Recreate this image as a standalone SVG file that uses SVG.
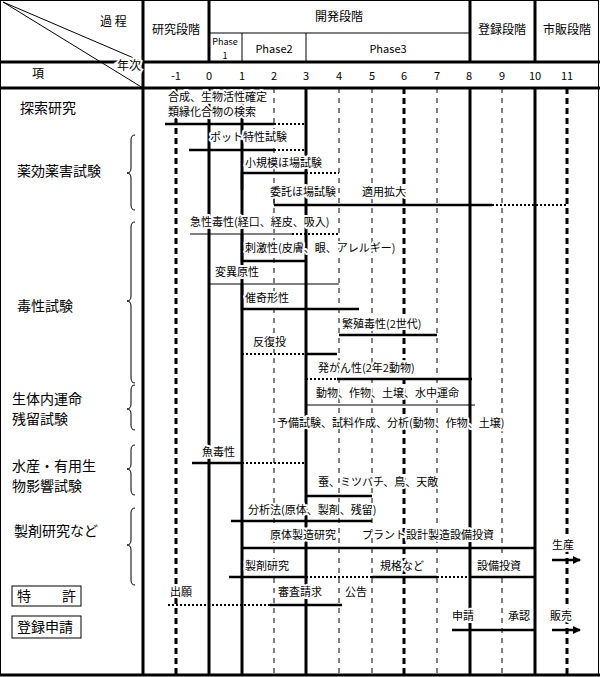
<svg xmlns="http://www.w3.org/2000/svg" width="600" height="677" viewBox="0 0 600 677">
<style>
text{font-family:"Noto Sans CJK JP","Liberation Sans",sans-serif;font-size:11px;fill:#000}
.h{font-size:12px}
.l{font-size:14px}
.t{stroke:#fff;stroke-width:4;paint-order:stroke;stroke-linejoin:round}
.th{stroke:#000;stroke-width:3;fill:none}
.tn{stroke:#000;stroke-width:1;fill:none}
.vd{stroke:#000;stroke-width:3;stroke-dasharray:6,4;fill:none}
.vt{stroke:#000;stroke-width:1;stroke-dasharray:5,5;fill:none}
.dot{stroke:#000;stroke-width:2;stroke-dasharray:2,2;fill:none}
.bar{stroke:#000;stroke-width:2.5;fill:none}
</style>
<defs><marker id="ar" markerWidth="8" markerHeight="8" refX="7" refY="4" orient="auto" markerUnits="userSpaceOnUse"><path d="M0,0 L8,4 L0,8 z" fill="#000"/></marker></defs>
<rect x="0.5" y="0.5" width="598" height="675" fill="#fff" stroke="#000"/>
<g id="grid">
<line class="vd" x1="176" y1="88" x2="176" y2="675"/>
<line class="th" x1="209" y1="0" x2="209" y2="62"/>
<line class="th" x1="209" y1="88" x2="209" y2="675"/>
<line class="tn" x1="242" y1="33" x2="242" y2="62"/>
<line class="th" x1="242" y1="88" x2="242" y2="675"/>
<line class="vt" x1="274" y1="88" x2="274" y2="675"/>
<line class="tn" x1="306" y1="33" x2="306" y2="62"/>
<line class="th" x1="306" y1="88" x2="306" y2="675"/>
<line class="vt" x1="339" y1="88" x2="339" y2="675"/>
<line class="vt" x1="372" y1="88" x2="372" y2="675"/>
<line class="vd" x1="404" y1="88" x2="404" y2="675"/>
<line class="vt" x1="437" y1="88" x2="437" y2="675"/>
<line class="th" x1="470" y1="0" x2="470" y2="62"/>
<line class="th" x1="470" y1="88" x2="470" y2="675"/>
<line class="vt" x1="502" y1="88" x2="502" y2="675"/>
<line class="th" x1="535" y1="0" x2="535" y2="62"/>
<line class="th" x1="535" y1="88" x2="535" y2="675"/>
<line class="vd" x1="567" y1="88" x2="567" y2="675"/>
<line class="th" x1="143" y1="0" x2="143" y2="676"/>
<line class="tn" x1="209" y1="33" x2="470" y2="33"/>
<line class="th" x1="0" y1="62" x2="600" y2="62"/>
<line class="th" x1="0" y1="88" x2="600" y2="88"/>
<line class="th" x1="0" y1="675" x2="600" y2="675"/>
<line class="tn" x1="3" y1="2" x2="143" y2="62"/>
<line class="tn" x1="3" y1="2" x2="143" y2="88"/>
</g>
<g id="header">
<text class="h" x="100" y="26">過 程</text>
<text class="h" x="117" y="70" style="stroke:#fff;stroke-width:4;paint-order:stroke">年次</text>
<text class="h" x="32" y="78">項</text>
<text class="h" x="176" y="34" text-anchor="middle">研究段階</text>
<text class="h" x="339" y="21" text-anchor="middle">開発段階</text>
<text class="h" x="502" y="34" text-anchor="middle">登録段階</text>
<text class="h" x="567" y="34" text-anchor="middle">市販段階</text>
<text x="225" y="45" text-anchor="middle" style="font-size:9px">Phase</text>
<text x="225" y="59" text-anchor="middle" style="font-size:9px">1</text>
<text x="274" y="53" text-anchor="middle">Phase2</text>
<text x="388" y="53" text-anchor="middle">Phase3</text>
<g class="h" text-anchor="middle">
<text x="176" y="80">-1</text><text x="209" y="80">0</text><text x="242" y="80">1</text><text x="274" y="80">2</text><text x="306" y="80">3</text><text x="339" y="80">4</text><text x="372" y="80">5</text><text x="404" y="80">6</text><text x="437" y="80">7</text><text x="469" y="80">8</text><text x="502" y="80">9</text><text x="535" y="80">10</text><text x="567" y="80">11</text>
</g>
</g>
<g id="left">
<text class="l" x="20" y="113">探索研究</text>
<text class="l" x="17" y="176">薬効薬害試験</text>
<text class="l" x="17" y="311">毒性試験</text>
<text class="l" x="12" y="404">生体内運命</text>
<text class="l" x="12" y="424">残留試験</text>
<text class="l" x="12" y="471">水産・有用生</text>
<text class="l" x="12" y="491">物影響試験</text>
<text class="l" x="14" y="536">製剤研究など</text>
<rect x="12" y="586" width="69" height="20" fill="none" stroke="#000"/>
<text class="l" x="17" y="601">特</text><text class="l" x="62" y="601">許</text>
<rect x="12" y="616" width="69" height="22" fill="none" stroke="#000"/>
<text class="l" x="17" y="632">登録申請</text>
<g class="tn">
<path d="M135,135 q-4,0 -4,5 v28 q0,5 -4,5 q4,0 4,5 v27 q0,5 4,5"/>
<path d="M135,222 q-4,0 -4,5 v69 q0,5 -4,5 q4,0 4,5 v72 q0,5 4,5"/>
<path d="M135,385 q-4,0 -4,5 v14 q0,5 -4,5 q4,0 4,5 v11 q0,5 4,5"/>
<path d="M135,445 q-4,0 -4,5 v14 q0,5 -4,5 q4,0 4,5 v16 q0,5 4,5"/>
<path d="M135,508 q-4,0 -4,5 v27 q0,5 -4,5 q4,0 4,5 v30 q0,5 4,5"/>
</g>
</g>
<g id="connectors">
<path class="bar" d="M165,124 H274"/><path class="dot" d="M274,124 H306"/>
<path class="bar" d="M189,150 H274"/><path class="dot" d="M274,150 H306"/>
<path class="bar" d="M242,190 V173 H306"/><path class="dot" d="M306,173 H339"/>
<path class="tn" d="M274,198 V205"/><path class="bar" d="M274,205 H492"/><path class="dot" d="M492,205 H567"/>
<path class="tn" d="M190,234 H292"/><path class="dot" d="M292,234 H339"/>
<path class="bar" d="M242,234 V261 H306"/>
<path class="tn" d="M209,284 H339"/>
<path class="bar" d="M242,284 V309 H359"/>
<path class="bar" d="M339,335 H437"/>
<path class="dot" d="M242,354 H306"/><path class="bar" d="M306,354 H337"/>
<path class="dot" d="M306,379 H337"/><path class="bar" d="M337,379 H472"/>
<path class="tn" d="M306,405 H475"/>
<path class="bar" d="M192,463 H242"/><path class="dot" d="M242,463 H306"/>
<path class="bar" d="M306,496 H372"/>
<path class="bar" d="M231,521 H372"/>
<path class="bar" d="M242,548 H535"/>
<path class="bar" d="M229,577 H306"/><path class="dot" d="M306,577 H372"/><path class="bar" d="M372,577 H437"/><path class="dot" d="M437,577 H470"/><path class="bar" d="M470,577 H535"/>
<path class="dot" d="M168,605 H270"/><path class="bar" d="M270,605 H342"/>
<path class="bar" d="M452,630 H535"/>
<path class="bar" d="M552,560 H580" marker-end="url(#ar)"/>
<path class="bar" d="M552,630 H580" marker-end="url(#ar)"/>
</g>
<g id="labels">
<text class="t" x="168" y="101">合成、生物活性確定</text>
<text class="t" x="168" y="116">類縁化合物の検索</text>
<text class="t" x="210" y="141">ポット特性試験</text>
<text class="t" x="245" y="167">小規模ほ場試験</text>
<text class="t" x="270" y="196">委託ほ場試験</text>
<text class="t" x="362" y="196">適用拡大</text>
<text class="t" x="190" y="226">急性毒性(経口、経皮、吸入)</text>
<text class="t" x="245" y="252">刺激性(皮膚、眼、アレルギー)</text>
<text class="t" x="215" y="276">変異原性</text>
<text class="t" x="245" y="302">催奇形性</text>
<text class="t" x="342" y="328">繁殖毒性(2世代)</text>
<text class="t" x="253" y="346">反復投</text>
<text class="t" x="318" y="372">発がん性(2年2動物)</text>
<text class="t" x="316" y="397">動物、作物、土壌、水中運命</text>
<text class="t" x="277" y="427">予備試験、試料作成、分析(動物、作物、土壌)</text>
<text class="t" x="202" y="456">魚毒性</text>
<text class="t" x="318" y="486">蚕、ミツバチ、鳥、天敵</text>
<text class="t" x="248" y="514">分析法(原体、製剤、残留)</text>
<text class="t" x="270" y="539">原体製造研究</text>
<text class="t" x="362" y="539">プラント設計製造設備投資</text>
<text class="t" x="552" y="549">生産</text>
<text class="t" x="245" y="570">製剤研究</text>
<text class="t" x="380" y="570">規格など</text>
<text class="t" x="477" y="570">設備投資</text>
<text class="t" x="170" y="596">出願</text>
<text class="t" x="278" y="596">審査請求</text>
<text class="t" x="345" y="596">公告</text>
<text class="t" x="452" y="620">申請</text>
<text class="t" x="508" y="620">承認</text>
<text class="t" x="550" y="620">販売</text>
</g>
</svg>
